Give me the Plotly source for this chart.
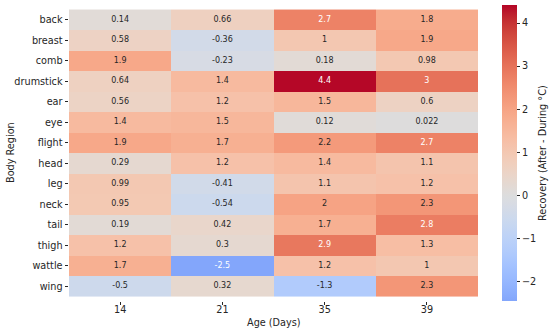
import plotly.graph_objects as go

regions = ["back", "breast", "comb", "drumstick", "ear", "eye", "flight",
           "head", "leg", "neck", "tail", "thigh", "wattle", "wing"]
ages = ["14", "21", "35", "39"]

age14 = [0.14, 0.58, 1.9, 0.64, 0.56, 1.4, 1.9, 0.29, 0.99, 0.95, 0.19, 1.2, 1.7, -0.5]
age21 = [0.66, -0.36, -0.23, 1.4, 1.2, 1.5, 1.7, 1.2, -0.41, -0.54, 0.42, 0.3, -2.5, 0.32]
age35 = [2.7, 1.0, 0.18, 4.4, 1.5, 0.12, 2.2, 1.4, 1.1, 2.0, 1.7, 2.9, 1.2, -1.3]
age39 = [1.8, 1.9, 0.98, 3.0, 0.6, 0.022, 2.7, 1.1, 1.2, 2.3, 2.8, 1.3, 1.0, 2.3]

ZMIN, ZMAX = -2.46, 4.42

# matplotlib "coolwarm" (Moreland) control points
CW = [(59, 76, 192), (68, 90, 204), (77, 104, 215), (87, 117, 225), (98, 130, 234),
      (108, 142, 241), (119, 154, 247), (130, 165, 251), (141, 176, 254), (152, 185, 255),
      (163, 194, 255), (174, 201, 253), (184, 208, 249), (194, 213, 244), (204, 217, 238),
      (213, 219, 230), (221, 221, 221), (229, 216, 209), (236, 211, 197), (241, 204, 185),
      (245, 196, 173), (247, 187, 160), (247, 177, 148), (247, 166, 135), (244, 154, 123),
      (241, 141, 111), (236, 127, 99), (229, 112, 88), (222, 96, 77), (213, 80, 66),
      (203, 62, 56), (192, 40, 47), (180, 4, 38)]


def coolwarm(t):
    t = min(max(t, 0.0), 1.0)
    p = t * (len(CW) - 1)
    i = min(int(p), len(CW) - 2)
    f = p - i
    a, b = CW[i], CW[i + 1]
    return tuple(a[k] + (b[k] - a[k]) * f for k in range(3))


vr = max(ZMAX, -ZMIN)


def color_of(v):
    return coolwarm((v + vr) / (2 * vr))


def rgb_str(c):
    return "rgb(%d,%d,%d)" % tuple(round(x) for x in c)


n = 40
colorscale = []
for k in range(n + 1):
    s = k / n
    v = ZMIN + s * (ZMAX - ZMIN)
    colorscale.append([s, rgb_str(color_of(v))])


def lum(c):
    out = []
    for x in c:
        x = x / 255
        out.append(x / 12.92 if x <= 0.03928 else ((x + 0.055) / 1.055) ** 2.4)
    return 0.2126 * out[0] + 0.7152 * out[1] + 0.0722 * out[2]


cols = [age14, age21, age35, age39]
z = [[cols[j][i] for j in range(4)] for i in range(len(regions))]

TXT = "#262626"
FS = 9.7

W, H, L, R, T, B = 550, 331, 69, 72, 5, 30
pw, ph = W - L - R, H - T - B

fig = go.Figure()
fig.add_trace(go.Heatmap(
    z=z, x=ages, y=regions, zmin=ZMIN, zmax=ZMAX, colorscale=colorscale,
    xgap=0, ygap=0, hoverinfo="skip",
    colorbar=dict(
        x=1 + (502 - (W - R)) / pw, xanchor="left", xpad=0, y=0.5, yanchor="middle",
        len=1, lenmode="fraction", thickness=15, ypad=0, outlinewidth=0,
        tickvals=[-2, -1, 0, 1, 2, 3, 4], ticks="outside", ticklen=3.5, tickcolor=TXT,
        tickfont=dict(family="DejaVu Sans", size=FS, color=TXT),
    ),
))

xs, ys, txt, tcol = [], [], [], []
for i, r in enumerate(regions):
    for j, a in enumerate(ages):
        v = z[i][j]
        xs.append(a)
        ys.append(r)
        txt.append(format(v, ".2g"))
        tcol.append("#ffffff" if lum(color_of(v)) < 0.408 else TXT)

fig.add_trace(go.Scatter(x=xs, y=ys, mode="text", text=txt,
                         textfont=dict(family="DejaVu Sans", size=8, color=tcol),
                         hoverinfo="skip", showlegend=False))

fig.update_layout(
    width=W, height=H, margin=dict(l=L, r=R, t=T, b=B),
    paper_bgcolor="white", plot_bgcolor="white", showlegend=False,
    font=dict(family="DejaVu Sans", color=TXT),
    annotations=[
        dict(text="Age (Days)", xref="paper", yref="paper", x=0.5,
             y=-(322 - (H - B)) / ph, xanchor="center", yanchor="middle",
             showarrow=False, font=dict(size=FS, color=TXT)),
        dict(text="Recovery (After - During °C)", xref="paper", yref="paper",
             x=(542 - L) / pw, y=0.5, xanchor="center", yanchor="middle", textangle=-90,
             showarrow=False, font=dict(size=FS, color=TXT)),
        dict(text="Body Region", xref="paper", yref="paper",
             x=(10 - L) / pw, y=0.5, xanchor="center", yanchor="middle", textangle=-90,
             showarrow=False, font=dict(size=FS, color=TXT)),
    ],
)
fig.update_xaxes(
    type="category", showgrid=False, zeroline=False, ticks="outside", ticklen=3,
    tickcolor=TXT, tickfont=dict(size=FS), automargin=False, ticklabelstandoff=-4,
)
fig.update_yaxes(
    type="category", autorange="reversed", showgrid=False, zeroline=False,
    ticks="outside", ticklen=3.5, tickcolor=TXT, tickfont=dict(size=FS),
    automargin=False,
)

fig.write_html("out.html", config={"displayModeBar": False},
               post_script="document.body.style.margin='0';")
